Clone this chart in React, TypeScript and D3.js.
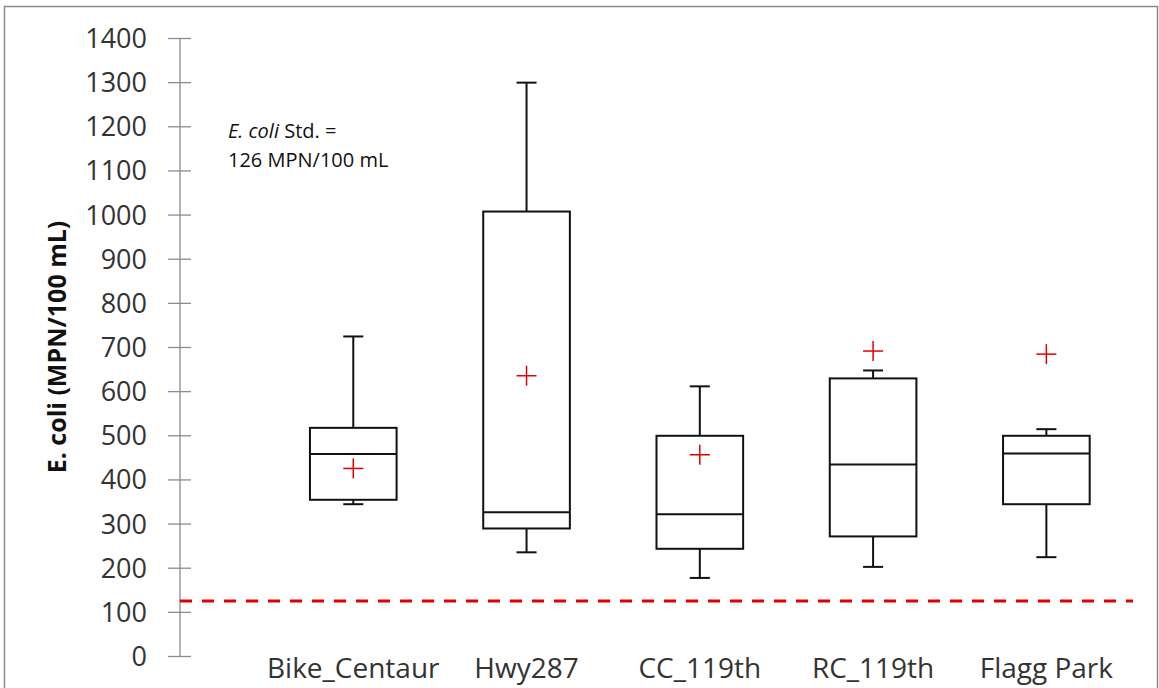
import React from "react";
import * as d3 from "d3";

// Sampling sites along the category axis
const sites = ["Bike_Centaur", "Hwy287", "CC_119th", "RC_119th", "Flagg Park"];
// Box-plot statistics per site (MPN/100 mL)
const whiskerLow = [345, 236, 178, 203, 225];
const quartile1 = [355, 290, 244, 272, 345];
const medians = [459, 327, 322, 435, 460];
const quartile3 = [518, 1008, 500, 630, 500];
const whiskerHigh = [725, 1300, 612, 648, 515];
const means = [426, 636, 457, 692, 685];
// Regulatory standard
const standardValue = 126;
const yTicks = d3.range(0, 1401, 100);

const W = 1159;
const H = 688;

export default function App() {
  const x = d3.scaleLinear().domain([0, sites.length + 0.5]).range([180, 1133]);
  const y = d3.scaleLinear().domain([0, 1400]).range([656.5, 38.5]);
  const boxHalf = (x(0.5) - x(0)) / 2;
  const capHalf = (x(0.11) - x(0)) / 2 + 0.5;
  const plusHalf = 10;
  const font = "'Open Sans', sans-serif";

  return (
    <svg
      width={W}
      height={H}
      style={{ position: "absolute", left: 0, top: 0, background: "#fff" }}
      fontFamily={font}
    >
      <rect x={0} y={0} width={W} height={H} fill="#fff" />
      {/* chart frame */}
      <rect x={4.5} y={6.5} width={1153} height={700} fill="none" stroke="#8a8a8a" strokeWidth={1.5} />

      {/* value axis */}
      <line x1={180} x2={180} y1={y(1400)} y2={y(0)} stroke="#8c8c8c" strokeWidth={1.3} />
      {yTicks.map((t) => (
        <g key={t}>
          <line x1={168} x2={191} y1={y(t)} y2={y(t)} stroke="#8c8c8c" strokeWidth={1.3} />
          <text x={147} y={y(t)} dy="0.35em" textAnchor="end" fontSize={27} fill="#333">
            {t}
          </text>
        </g>
      ))}

      <text
        transform={`translate(${66},${347}) rotate(-90)`}
        textAnchor="middle"
        fontSize={25}
        fontWeight="bold"
        fill="#111"
      >
        E. coli (MPN/100 mL)
      </text>

      {/* standard annotation */}
      <text x={228} y={138} fontSize={20} fill="#111">
        <tspan fontStyle="italic">E. coli</tspan> Std. =
      </text>
      <text x={228} y={167} fontSize={20} fill="#111">
        126 MPN/100 mL
      </text>

      {/* standard threshold */}
      <line
        x1={180}
        x2={1133}
        y1={y(standardValue)}
        y2={y(standardValue)}
        stroke="#e00000"
        strokeWidth={3}
        strokeDasharray="12 10"
      />

      {/* boxes */}
      {sites.map((s, i) => {
        const cx = x(i + 1);
        return (
          <g key={s} stroke="#111" strokeWidth={2} fill="none">
            <line x1={cx} x2={cx} y1={y(whiskerHigh[i])} y2={y(quartile3[i])} />
            <line x1={cx} x2={cx} y1={y(quartile1[i])} y2={y(whiskerLow[i])} />
            <line x1={cx - capHalf} x2={cx + capHalf} y1={y(whiskerHigh[i])} y2={y(whiskerHigh[i])} />
            <line x1={cx - capHalf} x2={cx + capHalf} y1={y(whiskerLow[i])} y2={y(whiskerLow[i])} />
            <rect
              x={cx - boxHalf}
              y={y(quartile3[i])}
              width={boxHalf * 2}
              height={y(quartile1[i]) - y(quartile3[i])}
              fill="#fff"
            />
            <line x1={cx - boxHalf} x2={cx + boxHalf} y1={y(medians[i])} y2={y(medians[i])} />
            <g stroke="#e00000" strokeWidth={1.5}>
              <line x1={cx - plusHalf} x2={cx + plusHalf} y1={y(means[i])} y2={y(means[i])} />
              <line x1={cx} x2={cx} y1={y(means[i]) - plusHalf} y2={y(means[i]) + plusHalf} />
            </g>
          </g>
        );
      })}

      {/* category labels */}
      {sites.map((s, i) => (
        <text key={s} x={x(i + 1)} y={678} textAnchor="middle" fontSize={28} fill="#333">
          {s}
        </text>
      ))}
    </svg>
  );
}
